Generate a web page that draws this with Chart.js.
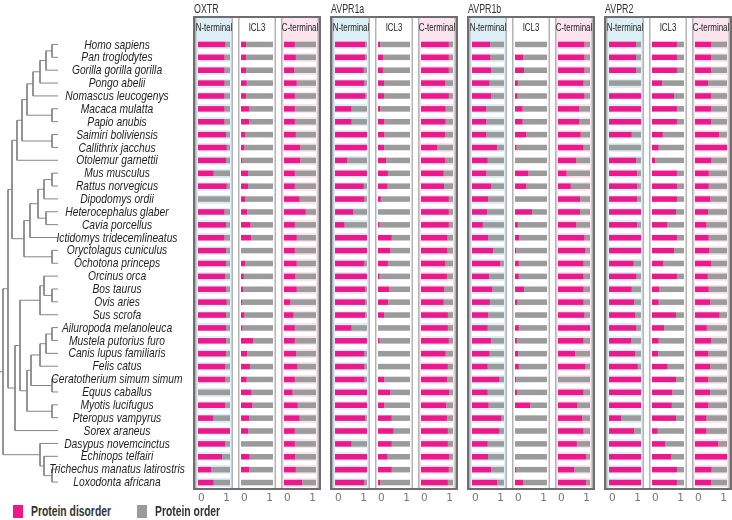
<!DOCTYPE html>
<html lang="en">
<head>
<meta charset="UTF-8">
<title>Disorder in oxytocin / vasopressin receptors</title>
<script src="https://cdn.jsdelivr.net/npm/chart.js"></script>
<style>
  body { margin: 0; background: #fff; }
  #wrap {
    position: relative;
    width: 732px;
    height: 520px;
    overflow: hidden;
    font-family: "Liberation Sans", Arial, sans-serif;
  }
  #wrap canvas { position: absolute; }
  .box {
    position: absolute;
    top: 16px;
    height: 474px;
    width: 128px;
    border: 2px solid #6e6e6e;
    box-sizing: border-box;
    pointer-events: none;
  }
  .ttl {
    position: absolute;
    top: 1px;
    font-size: 13px;
    color: #333;
    transform: scaleX(0.68);
    transform-origin: left top;
    white-space: nowrap;
  }
  .key {
    position: absolute;
    top: 504px;
    font-size: 14px;
    font-weight: bold;
    color: #333;
    line-height: 14px;
    transform: scaleX(0.74);
    transform-origin: left top;
    white-space: nowrap;
  }
  .sw { position: absolute; top: 505px; width: 10px; height: 13px; }
</style>
</head>
<body>
<div id="wrap"></div>
<script>
  const PINK = '#ec198c';
  const GRAY = '#9b9b9b';

  const species = [
    'Homo sapiens', 'Pan troglodytes', 'Gorilla gorilla gorilla', 'Pongo abelii',
    'Nomascus leucogenys', 'Macaca mulatta', 'Papio anubis', 'Saimiri boliviensis',
    'Callithrix jacchus', 'Otolemur garnettii', 'Mus musculus', 'Rattus norvegicus',
    'Dipodomys ordii', 'Heterocephalus glaber', 'Cavia porcellus', 'Ictidomys tridecemlineatus',
    'Oryctolagus cuniculus', 'Ochotona princeps', 'Orcinus orca', 'Bos taurus',
    'Ovis aries', 'Sus scrofa', 'Ailuropoda melanoleuca', 'Mustela putorius furo',
    'Canis lupus familiaris', 'Felis catus', 'Ceratotherium simum simum', 'Equus caballus',
    'Myotis lucifugus', 'Pteropus vampyrus', 'Sorex araneus', 'Dasypus novemcinctus',
    'Echinops telfairi', 'Trichechus manatus latirostris', 'Loxodonta africana'
  ];

  const receptors = ['OXTR', 'AVPR1a', 'AVPR1b', 'AVPR2'];
  const regions = ['N-terminal', 'ICL3', 'C-terminal'];
  const xTicks = [0, 1];

  // fraction of disordered residues per species (order = the rest)
  const oxtrN = [0.85, 0.83, 0.83, 0.83, 0.83, 0.83, 0.83, 0.88, 0.9, 0.88, 0.49, 0.9, 0, 0.83, 0.88, 0.83, 0.88,
                 0.88, 0.85, 0.88, 0.9, 0.88, 0.88, 0.88, 0.88, 0.85, 0.85, 0, 0.85, 0.47, 1, 0.85, 0.75, 0.41, 0.49];
  const oxtrICL3 = [0.16, 0.16, 0.16, 0.18, 0.16, 0.25, 0.25, 0.14, 0.11, 0.04, 0.22, 0.22, 0.14, 0.19, 0.3, 0.32, 0,
                    0.14, 0.09, 0.07, 0.04, 0.11, 0.05, 0.39, 0.19, 0.28, 0.18, 0.33, 0.36, 0.25, 0.23, 0, 0.27, 0.25, 0];
  const oxtrC = [0.34, 0.37, 0.32, 0.4, 0.34, 0.34, 0.34, 0.37, 0.51, 0.51, 0.34, 0.34, 0.49, 0.68, 0.34, 0.4, 0.34,
                 0.4, 0.36, 0.4, 0.2, 0.3, 0.34, 0.34, 0.38, 0.42, 0.34, 0.27, 0.43, 0.49, 0.34, 0.34, 0.35, 0.37, 0.57];

  const avpr1aN = [0.94, 0.94, 0.9, 0.92, 0.94, 0.52, 0.52, 1, 1, 0.38, 1, 0.9, 0.92, 0.57, 0.3, 1, 1,
                   0.92, 1, 0.94, 0.94, 0.94, 0.52, 1, 0.92, 0.92, 0.92, 1, 1, 0.94, 1, 0.52, 1, 1, 0.92];
  const avpr1aICL3 = [0.07, 0.17, 0.17, 0.19, 0.19, 0.07, 0.2, 0.2, 0.19, 0.26, 0.31, 0.3, 0.09, 0, 0.05, 0.43, 0.39,
                      0.31, 0.05, 0.35, 0.32, 0.19, 0, 0.05, 0, 0, 0.2, 0.39, 0.2, 0.43, 0.49, 0.43, 0.3, 0.43, 0.07];
  const avpr1aC = [0.87, 0.87, 0.87, 0.75, 0.87, 0.77, 0.77, 0.75, 0.51, 0.75, 0.71, 0.72, 0.87, 0.87, 0.87, 0.83, 0.83,
                   0.75, 0.81, 0.72, 0.71, 0.84, 0.84, 0.87, 0.77, 0.84, 0.82, 0.88, 0.79, 0.81, 0.84, 0.84, 0.88, 0.87, 0.84];

  const avpr1bN = [0.57, 0.58, 0.6, 0.55, 0.6, 0.45, 0.45, 0.45, 0.78, 0.49, 0.45, 0.6, 0.51, 0.47, 0.34, 0.51, 0.66,
                   0.89, 0.53, 0.64, 0.56, 0.51, 0.49, 0.59, 0.55, 0.49, 0.86, 0.49, 0.52, 0.92, 0.86, 0.49, 0.5, 0.6, 0.79];
  const avpr1bICL3 = [0, 0.25, 0.28, 0.09, 0.08, 0.24, 0.24, 0.36, 0.05, 0, 0.42, 0.36, 0, 0.53, 0.09, 0.14, 0.04,
                      0.12, 0.12, 0.28, 0.08, 0, 0.12, 0.06, 0.1, 0.12, 0.04, 0.07, 0.48, 0, 0, 0, 0, 0.04, 0.25];
  const avpr1bC = [0.83, 0.83, 0.83, 0.8, 0.83, 0.67, 0.67, 0.71, 0.8, 0.57, 0.27, 0.4, 0.69, 0.69, 0.57, 0.83, 0.86,
                   0.8, 0.8, 0.8, 0.8, 0.83, 1, 0.8, 0.54, 0.86, 0, 0.8, 0.61, 0.76, 0.8, 0.59, 0.88, 0.51, 0.88];

  const avpr2N = [0.85, 0.85, 0.85, 0, 1, 1, 1, 0.71, 0, 0.85, 0.88, 0.88, 0.88, 1, 0.88, 1, 1,
                  0.77, 0.86, 0.71, 0.79, 0.82, 0.86, 0.7, 0.82, 0.9, 1, 1, 1, 0.39, 0.79, 1, 1, 1, 1];
  const avpr2ICL3 = [0.78, 0.78, 0.78, 0.32, 0.69, 0.78, 0.78, 0.34, 0.21, 0.1, 0.78, 0.78, 0.78, 0.75, 0.48, 0.78, 0.69,
                     0.36, 0.78, 0.23, 0.21, 0.75, 0.38, 0.21, 0.19, 0.49, 0.75, 0.64, 0.62, 0.75, 0.18, 0.41, 0.61, 0.78, 0.78];
  const avpr2C = [0.5, 0.5, 0.5, 0.41, 0.5, 0.5, 0.5, 0.75, 1, 0.5, 0.43, 0.43, 0.48, 0.41, 0.36, 0.43, 0.45,
                  0.5, 0.4, 0.43, 0.48, 0.77, 0.37, 0.51, 0.42, 0.47, 0.42, 0.47, 0.42, 0.36, 0.36, 0.73, 1, 0.52, 0.5];

  const panelData = [
    [oxtrN, oxtrICL3, oxtrC],
    [avpr1aN, avpr1aICL3, avpr1aC],
    [avpr1bN, avpr1bICL3, avpr1bC],
    [avpr2N, avpr2ICL3, avpr2C]
  ];

  // species tree: [split position, childA, childB]; leaves are row numbers
  const tipPos = 58;
  const tree = [3,
    [8,
      [12,
        [17, [22, [27, [33, [40, [46, [52, 0, 1], 2], 3], 4], [52, 5, 6]], [52, 7, 8]], 9],
        [24, [30, [38, [44, [52, 10, 11], 12], [46, 13, 14]], 15], [52, 16, 17]]
      ],
      [15, [20, [40, [44, 18, [52, 19, 20]], 21],
                [27, [31, [40, [46, [52, 22, 23], 24], 25], [52, 26, 27]], [52, 28, 29]]], 30]
    ],
    [40, 31, [44, 32, [52, 33, 34]]]
  ];

  const wrap = document.getElementById('wrap');
  const regionBg = ['#dceff6', '#ffffff', '#fbe4ee'];

  // ---------- tree + species names ----------
  const treeSets = [];
  function walk(node) {
    if (typeof node === 'number') return { x: tipPos, y: node };
    const a = walk(node[1]);
    const b = walk(node[2]);
    treeSets.push([
      { x: a.x, y: a.y }, { x: node[0], y: a.y },
      { x: node[0], y: b.y }, { x: b.x, y: b.y }
    ]);
    return { x: node[0], y: (a.y + b.y) / 2 };
  }
  const root = walk(tree);
  treeSets.push([{ x: 0, y: root.y }, { x: root.x, y: root.y }]);

  // names sit on the y scale rows, in a narrow italic
  const speciesNames = {
    id: 'speciesNames',
    afterDraw(chart) {
      const { ctx } = chart;
      const ys = chart.scales.y;
      ctx.save();
      ctx.fillStyle = '#1e1e1e';
      ctx.font = 'italic 13px "Liberation Sans", Arial, sans-serif';
      ctx.textAlign = 'center';
      ctx.textBaseline = 'middle';
      species.forEach((name, i) => {
        ctx.save();
        ctx.translate(117, ys.getPixelForValue(i) + 0.5);
        ctx.scale(0.79, 1);
        ctx.fillText(name, 0, 0);
        ctx.restore();
      });
      ctx.restore();
    }
  };

  const treeCanvas = document.createElement('canvas');
  treeCanvas.width = 192; treeCanvas.height = 467;
  treeCanvas.style.left = '0px'; treeCanvas.style.top = '30px';
  wrap.appendChild(treeCanvas);

  new Chart(treeCanvas, {
    type: 'scatter',
    data: {
      datasets: treeSets.map(pts => ({
        data: pts, showLine: true, borderColor: '#858585', borderWidth: 1,
        pointRadius: 0, tension: 0, fill: false
      }))
    },
    plugins: [speciesNames],
    options: {
      responsive: false, animation: false, events: [],
      layout: { padding: { top: 8, bottom: 8.5, left: 0, right: 192 - tipPos } },
      plugins: { legend: { display: false }, tooltip: { enabled: false } },
      scales: {
        x: { type: 'linear', min: 0, max: tipPos, display: false },
        y: { type: 'linear', min: -0.5, max: species.length - 0.5, reverse: true, display: false }
      }
    }
  });

  // ---------- bar panels ----------
  const panelLook = {
    id: 'panelLook',
    beforeDraw(chart, args, opts) {
      const { ctx, chartArea, width } = chart;
      ctx.save();
      ctx.fillStyle = opts.bg;
      ctx.fillRect(0, 0, width, chartArea.bottom);
      ctx.strokeStyle = '#b3b3b3';
      ctx.lineWidth = 1.5;
      ctx.beginPath();
      ctx.moveTo(0.75, 0); ctx.lineTo(0.75, chartArea.bottom);
      ctx.moveTo(width - 0.75, 0); ctx.lineTo(width - 0.75, chartArea.bottom);
      ctx.stroke();
      ctx.fillStyle = '#222';
      ctx.font = '11px "Liberation Sans", Arial, sans-serif';
      ctx.textAlign = 'center';
      ctx.textBaseline = 'middle';
      ctx.translate(width / 2, 10.5);
      ctx.scale(0.72, 1);
      ctx.fillText(opts.head, 0, 0);
      ctx.restore();
    }
  };

  function makePanel(left, values, region) {
    const cv = document.createElement('canvas');
    cv.width = 38; cv.height = 500;
    cv.style.left = left + 'px'; cv.style.top = '17px';
    wrap.appendChild(cv);
    new Chart(cv, {
      type: 'bar',
      data: {
        labels: species,
        datasets: [
          { label: 'Protein disorder', data: values, backgroundColor: PINK,
            barPercentage: 0.43, categoryPercentage: 1 },
          { label: 'Protein order', data: values.map(v => 1 - v), backgroundColor: GRAY,
            barPercentage: 0.43, categoryPercentage: 1 }
        ]
      },
      plugins: [panelLook],
      options: {
        indexAxis: 'y', responsive: false, animation: false, events: [],
        layout: { padding: { top: 21, left: 1.5, right: 1.5, bottom: 0 } },
        plugins: {
          legend: { display: false }, tooltip: { enabled: false },
          panelLook: { bg: regionBg[region], head: regions[region] }
        },
        scales: {
          x: {
            stacked: true, min: 0, max: 1,
            afterBuildTicks: s => { s.ticks = xTicks.map(v => ({ value: v })); },
            afterFit: s => { s.height = 28; },
            grid: { display: false, drawTicks: false }, border: { display: false },
            ticks: { align: 'inner', maxRotation: 0, padding: 3, color: '#777',
                     font: { family: '"DejaVu Sans", sans-serif', size: 10.5 } }
          },
          y: {
            stacked: true,
            afterFit: s => { s.width = 0; },
            border: { display: false },
            ticks: { display: false },
            grid: {
              offset: true, drawTicks: false, lineWidth: 4,
              color: c => (c.index === 0 || c.index === species.length) ? 'rgba(0,0,0,0)' : '#ffffff'
            }
          }
        }
      }
    });
  }

  receptors.forEach((name, r) => {
    const x0 = 193 + r * 137;
    panelData[r].forEach((vals, k) => makePanel(x0 + 2 + k * 43, vals, k));
    const box = document.createElement('div');
    box.className = 'box';
    box.style.left = x0 + 'px';
    wrap.appendChild(box);
    const t = document.createElement('div');
    t.className = 'ttl';
    t.style.left = (x0 + 1) + 'px';
    t.textContent = name;
    wrap.appendChild(t);
  });

  // ---------- key ----------
  [['Protein disorder', PINK, 13], ['Protein order', GRAY, 137]].forEach(([txt, col, x]) => {
    const sw = document.createElement('div');
    sw.className = 'sw'; sw.style.left = x + 'px'; sw.style.background = col;
    wrap.appendChild(sw);
    const k = document.createElement('div');
    k.className = 'key'; k.style.left = (x + 18) + 'px'; k.textContent = txt;
    wrap.appendChild(k);
  });
</script>
</body>
</html>
